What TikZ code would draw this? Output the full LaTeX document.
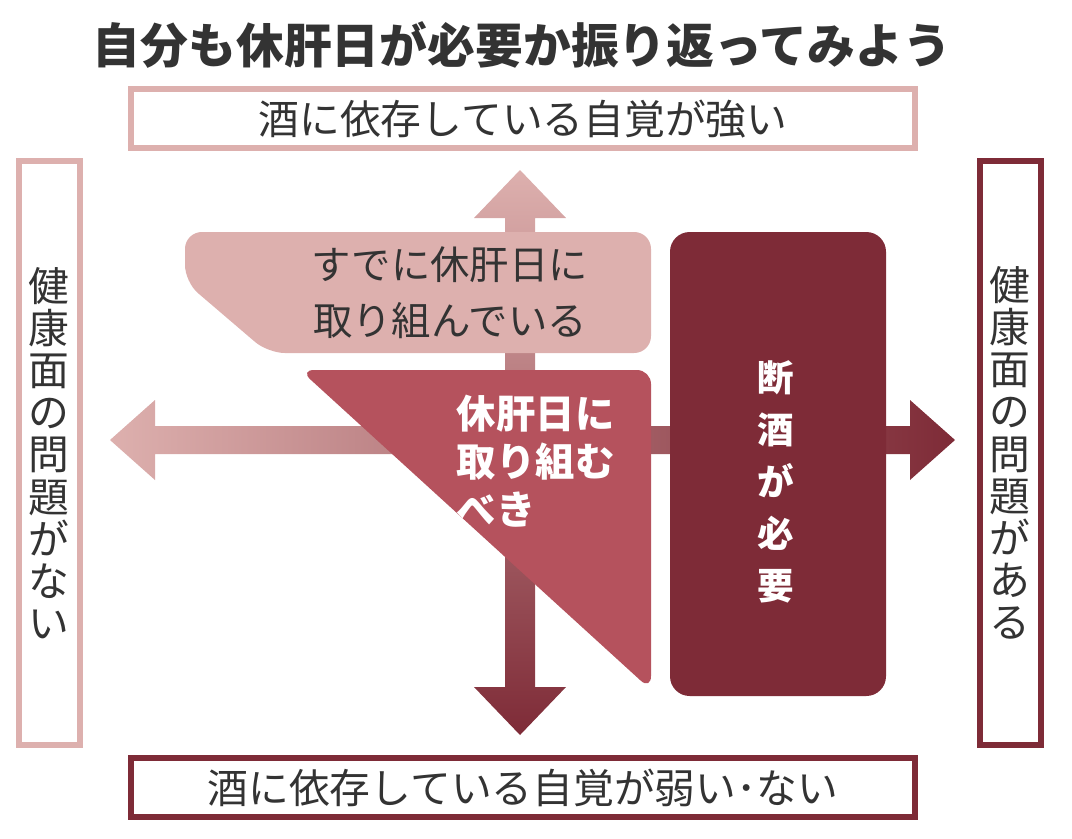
\documentclass[tikz,border=0pt]{standalone}
\usepackage{fontspec}
\setmainfont{Noto Sans CJK JP}
\definecolor{palered}{HTML}{DDB0AE}
\definecolor{midred}{HTML}{B5525D}
\definecolor{darkred}{HTML}{7E2B37}
\definecolor{textgray}{HTML}{333333}
\begin{document}
\begin{tikzpicture}[
  x=0.025cm, y=-0.025cm,
  axisbox/.style={draw, line width=4pt, fill=white},
  boxtext/.style={font=\fontsize{29}{31}\selectfont, text=textgray},
  vtext/.style={font=\fontsize{29}{30}\selectfont, text=textgray, align=center},
  wtext/.style={font=\bfseries\fontsize{28}{34}\selectfont, text=white},
]
\useasboundingbox (0,0) rectangle (1072,838);

% title
\node (title) [font=\bfseries\fontsize{34}{36}\selectfont, text=textgray] at (522,45) {自分も休肝日が必要か振り返ってみよう};

% axis boxes
\draw [axisbox, draw=palered] (131,89) rectangle (915,148);
\node (top) [boxtext] at (523,119) {酒に依存している自覚が強い};
\draw [axisbox, draw=darkred] (131,758) rectangle (915,817);
\node (bottom) [boxtext] at (523,788) {酒に依存している自覚が弱い･ない};
\draw [axisbox, draw=palered] (19,161) rectangle (80,745);
\node (left) [vtext] at (49,453) {健\\康\\面\\の\\問\\題\\が\\な\\い};
\draw [axisbox, draw=darkred] (980,161) rectangle (1041,745);
\node (right) [vtext] at (1010,453) {健\\康\\面\\の\\問\\題\\が\\あ\\る};

% arrows
\shade [left color=palered, right color=darkred]
  (110,440) -- (155,400) -- (155,426) -- (910,426) -- (910,400) -- (955,440)
  -- (910,480) -- (910,454) -- (155,454) -- (155,480) -- cycle;
\shade [top color=palered, bottom color=darkred]
  (520,170) -- (566,218) -- (535,218) -- (535,687) -- (566,687) -- (520,735)
  -- (474,687) -- (505,687) -- (505,218) -- (474,218) -- cycle;

% regions
\fill [palered, rounded corners=12pt]
  (185,232) -- (651,232) -- (651,353) -- (268,353) -- (185,282) -- cycle;
\node (done) [boxtext, align=center, font=\fontsize{28}{40}\selectfont] at (450,293) {すでに休肝日に\\取り組んでいる};
\fill [midred, rounded corners=10pt]
  (300,370) -- (651,370) -- (651,690) -- cycle;
\node (should) [wtext, align=left, anchor=north west] at (452,390) {休肝日に\\取り組む\\べき};
\fill [darkred, rounded corners=14pt] (670,232) rectangle (886,696);
\node (quit) [wtext, align=center, font=\bfseries\fontsize{26}{37}\selectfont] at (776,482) {断\\酒\\が\\必\\要};
\end{tikzpicture}
\end{document}
